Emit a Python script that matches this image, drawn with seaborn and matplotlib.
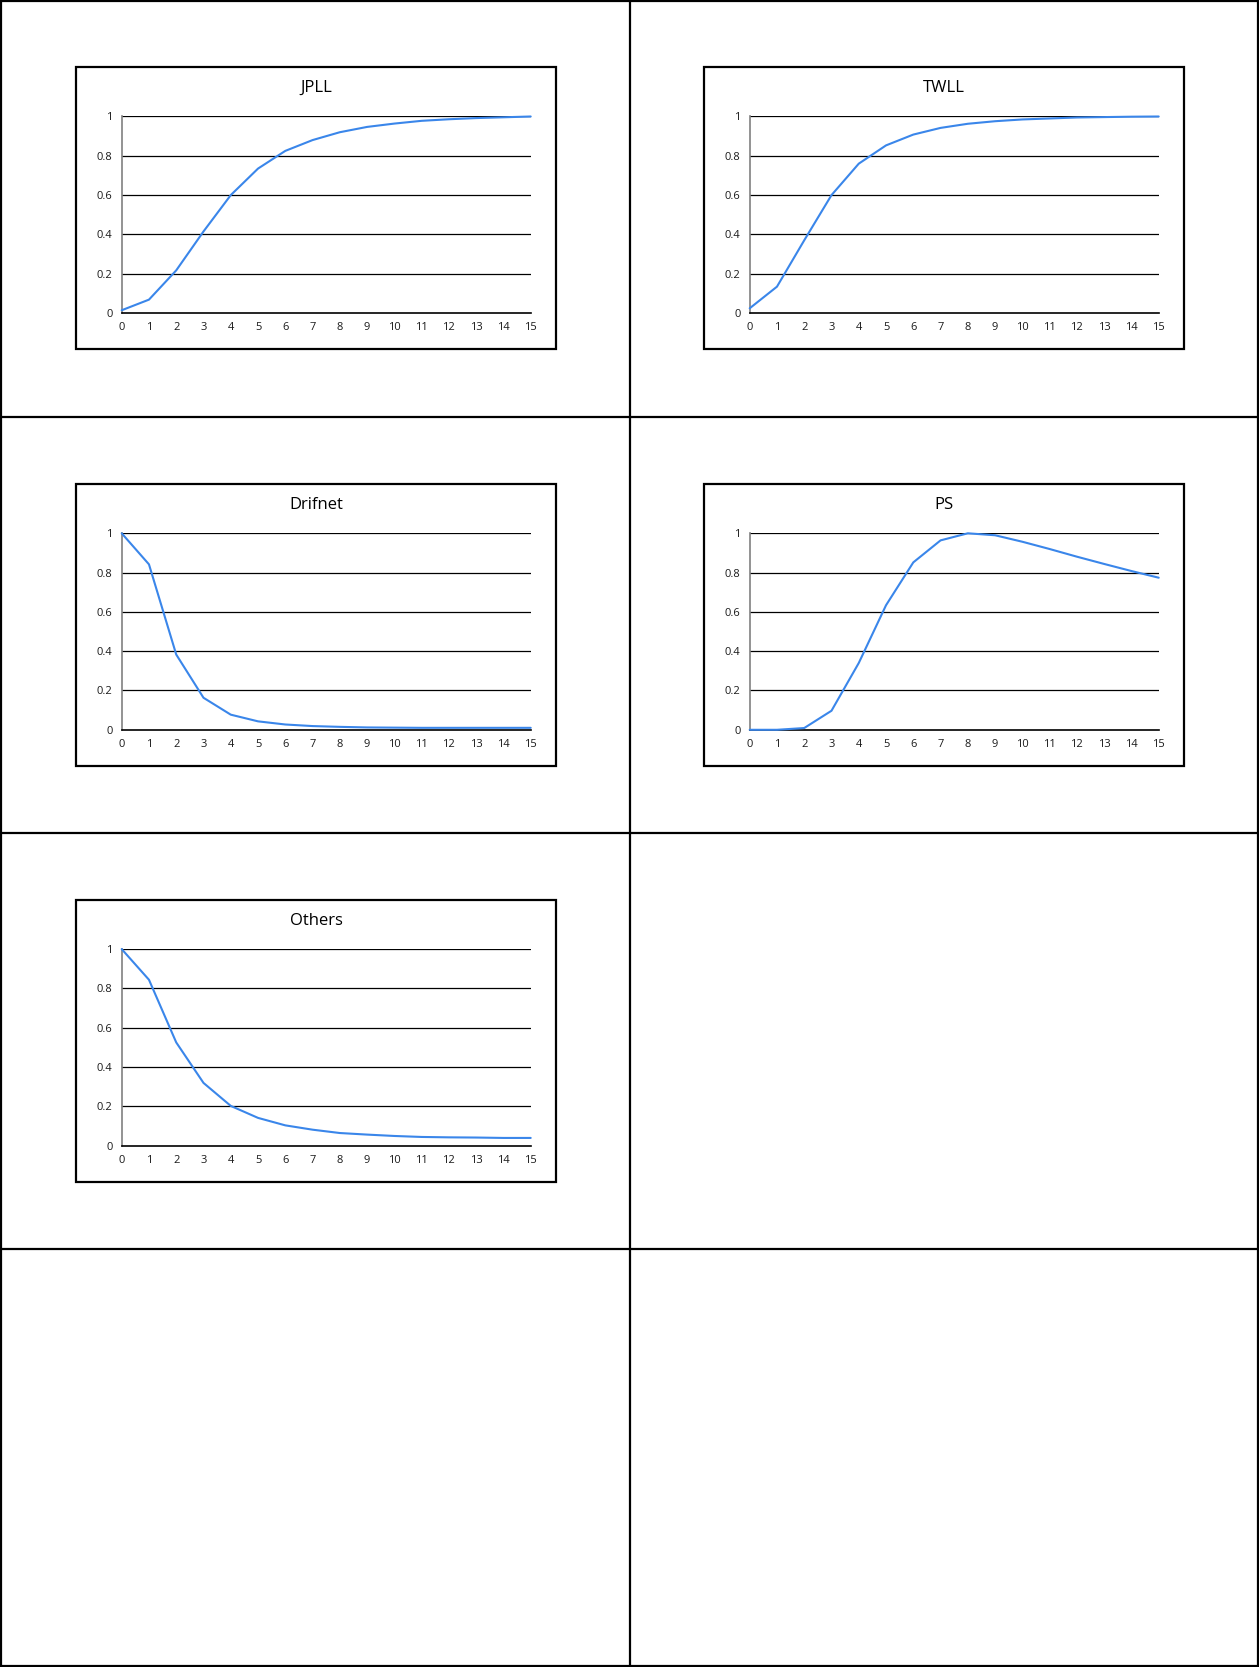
import matplotlib
matplotlib.use("Agg")
import matplotlib.pyplot as plt
from matplotlib.patches import Rectangle
from matplotlib.lines import Line2D
import numpy as np
import pandas as pd
import seaborn as sns

# Age classes (x axis)
ages = list(range(16))

# Selectivity-at-age by fleet
jpll = [0.014, 0.068, 0.217, 0.415, 0.600, 0.735, 0.825, 0.880, 0.920, 0.947,
        0.964, 0.978, 0.986, 0.992, 0.996, 1.000]
twll = [0.024, 0.134, 0.370, 0.600, 0.760, 0.853, 0.908, 0.942, 0.963, 0.976,
        0.985, 0.990, 0.995, 0.997, 0.999, 1.000]
drifnet = [1.000, 0.842, 0.383, 0.163, 0.077, 0.043, 0.027, 0.019, 0.015, 0.012,
           0.011, 0.010, 0.010, 0.010, 0.010, 0.010]
ps = [0.000, 0.000, 0.009, 0.097, 0.340, 0.634, 0.852, 0.964, 1.000, 0.990,
      0.957, 0.920, 0.881, 0.844, 0.808, 0.774]
others = [1.000, 0.844, 0.525, 0.319, 0.202, 0.141, 0.103, 0.081, 0.064, 0.056,
          0.049, 0.044, 0.042, 0.041, 0.039, 0.039]

fleets = ["JPLL", "TWLL", "Drifnet", "PS", "Others"]
series = [jpll, twll, drifnet, ps, others]

y_ticks = [0, 0.2, 0.4, 0.6, 0.8, 1]
y_tick_labels = ["0", "0.2", "0.4", "0.6", "0.8", "1"]

sns.set_theme(style="white")
plt.rcParams["font.family"] = ["Open Sans", "DejaVu Sans"]

W, H = 1259, 1667
fig = plt.figure(figsize=(W / 100, H / 100), dpi=100)
fig.patch.set_facecolor("white")

col_x = [0, 629.5, 1259]
row_y = [0, 416.8, 832.6, 1249.4, 1667]


def fx(px):
    return px / W


def fy(py):
    return 1 - py / H


# Cell grid (2 x 4)
lw_cell = 1.6
for x in col_x:
    xx = min(max(x, 1), W - 1)
    fig.add_artist(Line2D([fx(xx), fx(xx)], [0, 1], color="black", lw=lw_cell,
                          transform=fig.transFigure))
for y in row_y:
    yy = min(max(y, 1), H - 1)
    fig.add_artist(Line2D([0, 1], [fy(yy), fy(yy)], color="black", lw=lw_cell,
                          transform=fig.transFigure))

line_color = "#3A86EA"

for i, (name, vals) in enumerate(zip(fleets, series)):
    r, c = divmod(i, 2)
    cx0 = col_x[c]
    cy0 = row_y[r]
    box_left = cx0 + 76 if c == 0 else cx0 + 74.5
    box_top = cy0 + 67
    box_w, box_h = 480, 282

    # Chart frame
    fig.add_artist(Rectangle((fx(box_left), fy(box_top + box_h)),
                             box_w / W, box_h / H, transform=fig.transFigure,
                             fill=False, edgecolor="black", lw=1.6))

    # Title
    fig.text(fx(box_left + box_w / 2), fy(box_top + 21), name,
             ha="center", va="center", fontsize=12, color="black")

    # Plot area
    pl = box_left + 45.7
    pw = 409
    pt = cy0 + 116.5
    ph = 196.5
    ax = fig.add_axes([fx(pl), fy(pt + ph), pw / W, ph / H])
    ax.set_facecolor("none")

    df = pd.DataFrame({"age": ages, "sel": vals})
    sns.lineplot(data=df, x="age", y="sel", ax=ax, color=line_color,
                 linewidth=1.5, clip_on=False, zorder=3)

    ax.set_xlim(0, 15)
    ax.set_ylim(0, 1)
    ax.set_xticks(ages)
    ax.set_xticklabels([str(a) for a in ages])
    ax.set_yticks(y_ticks)
    ax.set_yticklabels(y_tick_labels)
    ax.set_xlabel("")
    ax.set_ylabel("")

    for yv in y_ticks[1:]:
        ax.axhline(yv, color="black", lw=0.9, zorder=1)

    for s in ["top", "right"]:
        ax.spines[s].set_visible(False)
    ax.spines["left"].set_color("#808080")
    ax.spines["left"].set_linewidth(1.2)
    ax.spines["bottom"].set_color("black")
    ax.spines["bottom"].set_linewidth(1.2)

    ax.tick_params(axis="both", which="major", direction="out", length=5,
                   width=0.9, labelsize=8, pad=1.5)
    ax.tick_params(axis="x", colors="black", labelcolor="#1a1a1a")
    ax.tick_params(axis="y", colors="#808080", labelcolor="#1a1a1a")

fig.savefig("out.png", dpi=100, facecolor="white")
